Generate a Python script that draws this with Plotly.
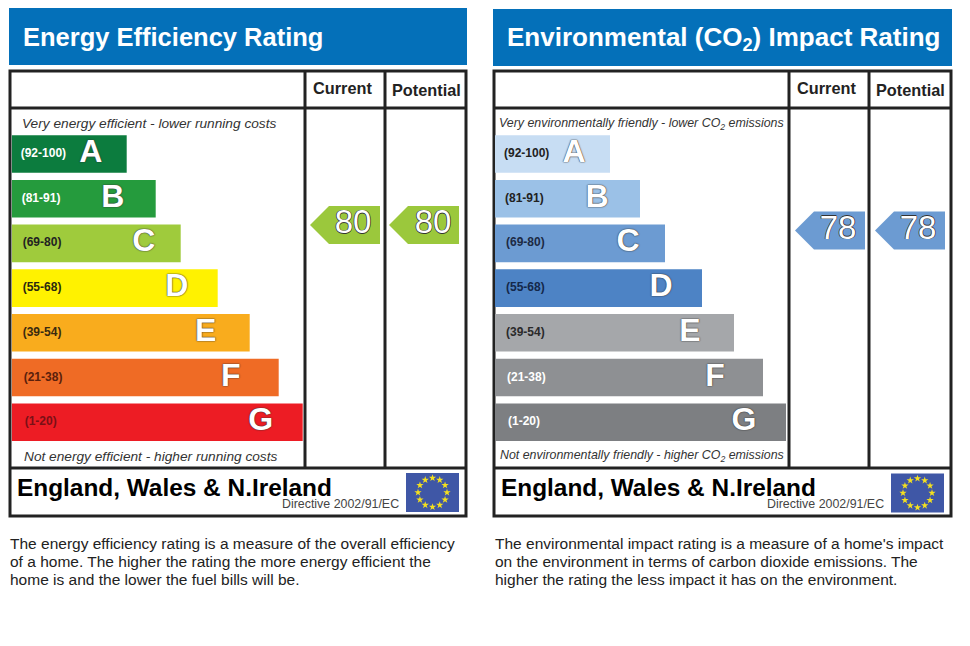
import math
import plotly.graph_objects as go

# Values
bands = ["A", "B", "C", "D", "E", "F", "G"]
band_ranges = ["(92-100)", "(81-91)", "(69-80)", "(55-68)", "(39-54)", "(21-38)", "(1-20)"]
energy_lengths = [115, 144, 169, 206, 238, 267, 291]
co2_lengths = [115, 145, 170, 207, 239, 268, 291]
energy_scores = [80, 80]
co2_scores = [78, 78]

energy_lines = [
    "The energy efficiency rating is a measure of the overall efficiency",
    "of a home. The higher the rating the more energy efficient the",
    "home is and the lower the fuel bills will be.",
]
co2_lines = [
    "The environmental impact rating is a measure of a home's impact",
    "on the environment in terms of carbon dioxide emissions. The",
    "higher the rating the less impact it has on the environment.",
]

# Styles
energy_colors = ["#0c7c3e", "#259b3d", "#9fcb3c", "#fff200", "#f9ac1d", "#ef6b25", "#ed1c24"]
co2_colors = ["#c7ddf3", "#9bc1e7", "#6c9bd2", "#4d83c5", "#a5a7aa", "#8e9093", "#7d7f82"]
energy_range_colors = ["#ffffff", "#ffffff", "#222222", "#2a2a10", "#3a2a10", "#5a200c", "#7a1016"]
co2_range_colors = ["#222222", "#222222", "#1c2a44", "#14284a", "#2a2a2a", "#ffffff", "#ffffff"]
letter_insets = [36, 43, 37, 41, 44, 48, 42]
range_insets = [9, 10, 11, 11, 11, 12, 13]
BLUE = "#0470b9"
INK = "#222222"
FONT = "Liberation Sans"
W, H = 970, 646
PX_PER_SCORE = 2.75
OUTLINE = "0 0 1.5px #333333, 0 0 1px #333333"
HOLLOW = "-0.7px 0 #333333, 0.7px 0 #333333, 0 -0.7px #333333, 0 0.7px #333333"


def px(x):
    return x / W


def py(y):
    return 1 - y / H


fig = go.Figure()


def add_panel(xname, yname, x0, lengths, colors, range_colors):
    # horizontal bars with a letter and score band on each
    fig.add_trace(go.Bar(
        y=bands, x=lengths, orientation="h", xaxis=xname, yaxis=yname,
        marker=dict(color=colors, line=dict(width=0)), hoverinfo="skip",
    ))
    fig.add_trace(go.Scatter(
        y=bands, x=range_insets, xaxis=xname, yaxis=yname, mode="text",
        text=band_ranges, textposition="middle right", hoverinfo="skip",
        textfont=dict(family=FONT, size=12, color=range_colors, weight="bold"),
    ))
    fig.add_trace(go.Scatter(
        y=bands, x=[v - i for v, i in zip(lengths, letter_insets)],
        xaxis=xname, yaxis=yname, mode="text", text=bands,
        textposition="middle center", hoverinfo="skip",
        textfont=dict(family=FONT, size=32, color="#ffffff", weight="bold", shadow=OUTLINE),
    ))
    xn = "xaxis" + xname[1:]
    yn = "yaxis" + yname[1:]
    axes = {
        xn: dict(domain=[px(x0), px(x0 + 295)], range=[0, 295], visible=False, anchor=yname),
        yn: dict(domain=[py(444.6), py(131.6)], range=[6.5, -0.5], type="category",
                 categoryorder="array", categoryarray=bands, visible=False, anchor=xname),
    }
    fig.update_layout(**axes)


def add_text(x, y, text, size, color=INK, anchor="left"):
    fig.add_annotation(
        x=x, y=y, xref="x3", yref="y3", text=text, showarrow=False,
        xanchor=anchor, yanchor="middle", borderpad=0,
        font=dict(family=FONT, size=size, color=color),
    )


def add_rect(x0, y0, x1, y1, fill):
    fig.add_shape(type="rect", xref="paper", yref="paper", layer="below",
                  x0=px(x0), x1=px(x1), y0=py(y0), y1=py(y1),
                  fillcolor=fill, line_width=0)


def add_line(x0, y0, x1, y1):
    fig.add_shape(type="line", xref="paper", yref="paper", layer="below",
                  x0=px(x0), x1=px(x1), y0=py(y0), y1=py(y1),
                  line=dict(color=INK, width=3))


def add_frame(x0, x1, col1, col2, header_top, header_bottom, title, title_size):
    add_rect(x0 - 1, header_top, x1 + 1, header_bottom, BLUE)
    add_text(x0 + 12, (header_top + header_bottom) / 2 + 0.5, title, title_size, "#ffffff")
    fig.add_shape(type="rect", xref="paper", yref="paper", layer="below",
                  x0=px(x0), x1=px(x1), y0=py(71), y1=py(516),
                  line=dict(color=INK, width=3), fillcolor="#ffffff")
    add_line(x0, 108, x1, 108)
    add_line(x0, 468, x1, 468)
    add_line(col1, 71, col1, 468)
    add_line(col2, 71, col2, 468)
    add_text((col1 + col2) / 2 - 3, 88, "<b>Current</b>", 16.3, anchor="center")
    add_text((col2 + x1) / 2 + 0.5, 89.5, "<b>Potential</b>", 16.3, anchor="center")


def add_pointer(x_left, score, color):
    path = "M0,0 L19,19 L70,19 L70,-19 L19,-19 Z"
    fig.add_shape(type="path", path=path, layer="below",
                  xref="paper", xsizemode="pixel", xanchor=px(x_left),
                  yref="y4", ysizemode="pixel", yanchor=score,
                  fillcolor=color, line_width=0)


def add_flag(x0, y0):
    add_rect(x0, y0, x0 + 53, y0 + 39, "#3f57a6")
    cx, cy = x0 + 26.5, y0 + 19.5
    xs = [cx + 14.5 * math.sin(k * math.pi / 6) for k in range(12)]
    ys = [cy - 14.5 * math.cos(k * math.pi / 6) for k in range(12)]
    fig.add_trace(go.Scatter(
        x=xs, y=ys, xaxis="x3", yaxis="y3", mode="markers", hoverinfo="skip",
        marker=dict(symbol="star", size=5.5, color="#f4e01f", line_width=0),
    ))


# left panel
add_panel("x", "y", 11.7, energy_lengths, energy_colors, energy_range_colors)
add_frame(10, 466, 305, 385, 8, 65, "<b>Energy Efficiency Rating</b>", 25.5)
add_text(21, 123.5, "<i>Very energy efficient - lower running costs</i>", 13.7, "#333333")
add_text(23, 456, "<i>Not energy efficient - higher running costs</i>", 13.7, "#333333")
add_text(15.5, 487, "<b>England, Wales &amp; N.Ireland</b>", 24.4, "#000000")
add_text(281, 503.5, "Directive 2002/91/EC", 12.4, "#444444")
add_flag(406, 473)
for i, line in enumerate(energy_lines):
    add_text(9, 543 + 18 * i, line, 15.5, "#222222")

# right panel
add_panel("x2", "y2", 495, co2_lengths, co2_colors, co2_range_colors)
add_frame(494, 951, 789, 869, 9, 66, "<b>Environmental (CO<sub>2</sub>) Impact Rating</b>", 26)
add_text(498, 123.5, "<i>Very environmentally friendly - lower CO<sub>2</sub> emissions</i>", 12.4, "#333333")
add_text(499, 456, "<i>Not environmentally friendly - higher CO<sub>2</sub> emissions</i>", 12.4, "#333333")
add_text(500, 487, "<b>England, Wales &amp; N.Ireland</b>", 24.4, "#000000")
add_text(766, 504, "Directive 2002/91/EC", 12.4, "#444444")
add_flag(891, 473.5)
for i, line in enumerate(co2_lines):
    add_text(494, 543 + 18 * i, line, 15.5, "#222222")

# score pointers
for x_left, s in zip([310, 389], energy_scores):
    add_pointer(x_left, s, "#9bc83c")
for x_left, s in zip([795, 875], co2_scores):
    add_pointer(x_left, s, "#6c9bd2")

fig.add_trace(go.Scatter(
    x=[353, 433, 838, 918], y=energy_scores + co2_scores, xaxis="x3", yaxis="y4",
    mode="text", text=[str(s) for s in energy_scores + co2_scores],
    textposition="middle center", hoverinfo="skip",
    textfont=dict(family=FONT, size=33, color="#ffffff", shadow=HOLLOW),
))

fig.update_layout(
    width=W, height=H, margin=dict(l=0, r=0, t=0, b=0), showlegend=False,
    paper_bgcolor="#ffffff", plot_bgcolor="rgba(0,0,0,0)", bargap=0.16,
    xaxis3=dict(domain=[0, 1], range=[0, W], visible=False, anchor="y3"),
    yaxis3=dict(domain=[0, 1], range=[H, 0], visible=False, anchor="x3"),
    yaxis4=dict(domain=[py(466), py(108)],
                range=[80 - (466 - 225) / PX_PER_SCORE, 80 + (225 - 108) / PX_PER_SCORE],
                visible=False, anchor="x3"),
)

fig.write_html("out.html", config={"displayModeBar": False},
               post_script="document.body.style.margin='0';")
